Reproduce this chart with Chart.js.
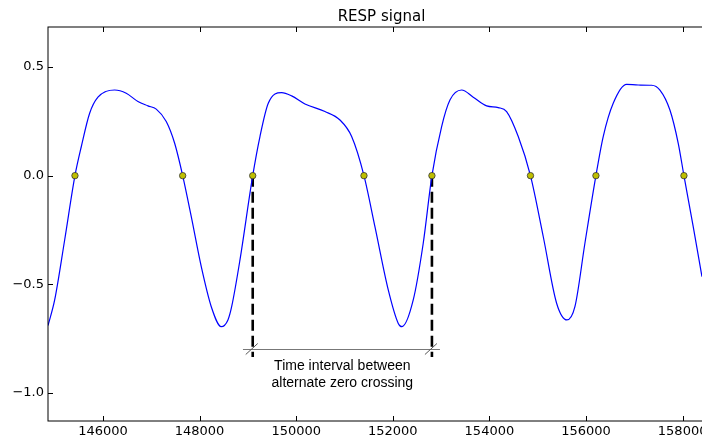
<!DOCTYPE html>
<html>
<head>
<meta charset="utf-8">
<title>RESP signal</title>
<script src="https://cdn.jsdelivr.net/npm/chart.js@4"></script>
<style>
  html, body { margin: 0; padding: 0; background: #fff; overflow: hidden; width: 702px; height: 437px; }
  #wrap { width: 716px; height: 450px; }
</style>
</head>
<body>
<div id="wrap"><canvas id="respChart" width="716" height="450"></canvas></div>
<script>
// respiration trace (sample index, amplitude)
const sigX = [144862, 145000, 145207, 145420, 145551, 145724, 145896, 146242, 146482, 146724,
  146931, 147103, 147310, 147484, 147650, 147828, 148035, 148242, 148449, 148587,
  148664, 148836, 149100, 149250, 149422, 149699, 149906, 150181, 150595, 150906,
  151148, 151403, 151630, 151906, 152113, 152189, 152423, 152630, 152810, 153011,
  153183, 153425, 153665, 153942, 154183, 154356, 154597, 154850, 155114, 155391,
  155605, 155770, 155977, 156205, 156356, 156563, 156840, 157081, 157358, 157530,
  157737, 157909, 158027, 158219, 158400];
const sigY = [-0.69, -0.572, -0.296, 0, 0.133, 0.287, 0.361, 0.394, 0.379, 0.341,
  0.321, 0.306, 0.249, 0.149, 0, -0.189, -0.419, -0.603, -0.695, -0.664,
  -0.603, -0.388, 0, 0.18, 0.333, 0.382, 0.367, 0.33, 0.295, 0.256,
  0.18, 0, -0.235, -0.526, -0.68, -0.695, -0.572, -0.311, 0, 0.226,
  0.348, 0.394, 0.361, 0.321, 0.313, 0.295, 0.18, 0, -0.28, -0.587,
  -0.664, -0.603, -0.311, 0, 0.18, 0.333, 0.42, 0.417, 0.416, 0.394,
  0.302, 0.149, 0, -0.235, -0.465];

// detected zero crossings
const zeroX = [145420, 147650, 149100, 151403, 152810, 154850, 156205, 158027];

// interval between alternate crossings
const intervalStart = 149100;
const intervalEnd = 152810;
const dashBottom = -0.835;
const arrowY = -0.8;
const arrowFrom = 148898;
const arrowTo = 152976;
const intervalText = ['Time interval between', 'alternate zero crossing'];

const xTicks = [146000, 148000, 150000, 152000, 154000, 156000, 158000];
const yTicks = [-1.0, -0.5, 0.0, 0.5];

const signal = sigX.map((x, i) => ({ x, y: sigY[i] }));
const zeros = zeroX.map(x => ({ x, y: 0 }));

const axesFrame = {
  id: 'axesFrame',
  afterDraw(chart) {
    const { ctx, chartArea: a, scales: { x, y } } = chart;
    ctx.save();
    ctx.strokeStyle = '#000';
    ctx.lineWidth = 1;
    ctx.strokeRect(a.left, a.top, a.right - a.left, a.bottom - a.top);

    // ticks point inwards
    ctx.beginPath();
    xTicks.forEach(v => {
      const px = Math.round(x.getPixelForValue(v)) + 0.5;
      ctx.moveTo(px, a.bottom); ctx.lineTo(px, a.bottom - 5);
      ctx.moveTo(px, a.top); ctx.lineTo(px, a.top + 5);
    });
    yTicks.forEach(v => {
      const py = Math.round(y.getPixelForValue(v)) + 0.5;
      ctx.moveTo(a.left, py); ctx.lineTo(a.left + 5, py);
      ctx.moveTo(a.right, py); ctx.lineTo(a.right - 5, py);
    });
    ctx.stroke();

    // title
    ctx.fillStyle = '#000';
    ctx.font = '15px "DejaVu Sans"';
    ctx.textAlign = 'center';
    ctx.textBaseline = 'alphabetic';
    ctx.fillText('RESP signal', (a.left + a.right) / 2, 21);

    // slashes at both ends of the interval bar
    const ay = y.getPixelForValue(arrowY);
    ctx.strokeStyle = '#555';
    ctx.lineWidth = 1;
    ctx.beginPath();
    [intervalStart, intervalEnd].forEach(v => {
      const px = x.getPixelForValue(v);
      ctx.moveTo(px - 7, ay + 5);
      ctx.lineTo(px + 5, ay - 6);
    });
    ctx.stroke();

    // interval caption
    const cx = x.getPixelForValue((intervalStart + intervalEnd) / 2);
    ctx.font = '14px "Liberation Sans"';
    ctx.textBaseline = 'middle';
    ctx.fillText(intervalText[0], cx, ay + 17);
    ctx.fillText(intervalText[1], cx, ay + 34);
    ctx.restore();
  }
};

const fmt = v => v.toFixed(1).replace('-', '\u2212');

new Chart(document.getElementById('respChart').getContext('2d'), {
  type: 'line',
  data: {
    datasets: [
      {
        data: zeros,
        showLine: false,
        pointRadius: 3.2,
        pointBackgroundColor: '#bfbf00',
        pointBorderColor: '#333',
        pointBorderWidth: 0.8,
        order: 0
      },
      {
        data: signal,
        borderColor: '#0000ff',
        borderWidth: 1.2,
        pointRadius: 0,
        cubicInterpolationMode: 'monotone',
        order: 1
      },
      {
        data: [{ x: intervalStart, y: 0 }, { x: intervalStart, y: dashBottom }],
        borderColor: '#000',
        borderWidth: 2.6,
        borderDash: [11, 5],
        pointRadius: 0,
        order: 2
      },
      {
        data: [{ x: intervalEnd, y: 0 }, { x: intervalEnd, y: dashBottom }],
        borderColor: '#000',
        borderWidth: 2.6,
        borderDash: [11, 5],
        pointRadius: 0,
        order: 2
      },
      {
        data: [{ x: arrowFrom, y: arrowY }, { x: arrowTo, y: arrowY }],
        borderColor: '#777',
        borderWidth: 1,
        pointRadius: 0,
        order: 3
      }
    ]
  },
  options: {
    responsive: false,
    animation: false,
    events: [],
    layout: { autoPadding: false, padding: { left: 0, top: 27, right: 1, bottom: 0 } },
    plugins: {
      legend: { display: false },
      tooltip: { enabled: false },
      title: { display: false }
    },
    scales: {
      x: {
        type: 'linear',
        min: 144862,
        max: 158670,
        grid: { display: false, drawTicks: false },
        border: { display: false },
        afterFit: s => { s.height = 29; s.paddingLeft = 0; s.paddingRight = 0; },
        afterBuildTicks: s => { s.ticks = xTicks.map(v => ({ value: v })); },
        ticks: {
          padding: 3,
          maxRotation: 0,
          autoSkip: false,
          color: '#000',
          font: { family: 'DejaVu Sans', size: 13 },
          callback: v => String(v)
        }
      },
      y: {
        type: 'linear',
        min: -1.129,
        max: 0.684,
        grid: { display: false, drawTicks: false },
        border: { display: false },
        afterFit: s => { s.width = 48; s.paddingTop = 0; s.paddingBottom = 0; },
        afterBuildTicks: s => { s.ticks = yTicks.map(v => ({ value: v })); },
        ticks: {
          padding: 4,
          color: '#000',
          font: { family: 'DejaVu Sans', size: 13 },
          callback: v => fmt(v)
        }
      }
    }
  },
  plugins: [axesFrame]
});
</script>
</body>
</html>
